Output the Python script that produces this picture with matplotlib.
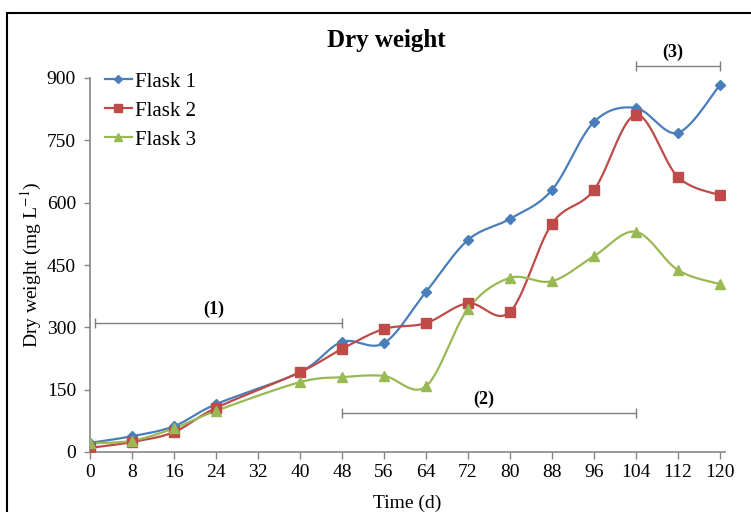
import matplotlib
matplotlib.use("Agg")
import matplotlib.pyplot as plt
from matplotlib.patches import Rectangle
import numpy as np

plt.rcParams['font.family'] = ['Liberation Serif', 'DejaVu Serif']
plt.rcParams['mathtext.fontset'] = 'stix'

days = [0, 8, 16, 24, 40, 48, 56, 64, 72, 80, 88, 96, 104, 112, 120]
flask1 = [22, 38, 62, 115, 192, 265, 262, 385, 510, 561, 630, 794, 828, 768, 883]
flask2 = [10, 24, 48, 106, 192, 248, 296, 310, 358, 337, 549, 630, 811, 662, 618]
flask3 = [21, 27, 57, 99, 168, 180, 183, 158, 344, 419, 411, 471, 530, 438, 404]

x_ticks = list(range(0, 121, 8))
y_ticks = [0, 150, 300, 450, 600, 750, 900]

# growth phases: (label, start day, end day, line level)
phases = [("(1)", 1, 48, 310), ("(2)", 48, 104, 94), ("(3)", 104, 120, 929)]

colors = ['#4A7EBB', '#BE4B48', '#98B954']
markers = ['D', 's', '^']
msizes = [5, 7, 7]


def smooth(xs, ys, sx, sy, n=30):
    # bezier smoothing like spreadsheet "smoothed line", done in screen-ish units
    p = np.column_stack([np.array(xs) * sx, np.array(ys) * sy])
    out = [p[0]]
    for i in range(len(p) - 1):
        p0 = p[i - 1] if i > 0 else p[i]
        p3 = p[i + 2] if i + 2 < len(p) else p[i + 1]
        c1 = p[i] + (p[i + 1] - p0) / 6
        c2 = p[i + 1] - (p3 - p[i]) / 6
        t = np.linspace(0, 1, n)[1:, None]
        seg = ((1 - t) ** 3 * p[i] + 3 * (1 - t) ** 2 * t * c1
               + 3 * (1 - t) * t ** 2 * c2 + t ** 3 * p[i + 1])
        out.extend(seg)
    out = np.array(out)
    return out[:, 0] / sx, out[:, 1] / sy


fig = plt.figure(figsize=(7.51, 5.12), dpi=100)
ax = fig.add_axes([90 / 751, 1 - 452 / 512, 635 / 751, 374 / 512])

sx, sy = 630 / 120, 374 / 900
for i, (vals, name) in enumerate(zip([flask1, flask2, flask3], ["Flask 1", "Flask 2", "Flask 3"])):
    xs, ys = smooth(days, vals, sx, sy)
    ax.plot(xs, ys, color=colors[i], lw=1.6, zorder=3)
    ax.plot(days, vals, linestyle='none', marker=markers[i], markersize=msizes[i],
            color=colors[i], zorder=4)
    ax.plot([], [], color=colors[i], lw=1.6, marker=markers[i], markersize=msizes[i] - 1,
            label=name)

for label, x0, x1, lev in phases:
    ax.plot([x0, x1], [lev, lev], color='#7F7F7F', lw=1, marker='|', markersize=7,
            clip_on=False, zorder=2)
    ax.text((x0 + x1) / 2 - 1, lev + 12, label, ha='center', va='bottom',
            fontsize=13, fontweight='bold')

ax.set_xlim(0, 121)
ax.set_ylim(0, 900)
ax.set_xticks(x_ticks)
ax.set_yticks(y_ticks)
ax.tick_params(labelsize=14, color='#868686', length=5, width=1)
ax.tick_params(axis='y', length=4, pad=6)
for s in ['top', 'right']:
    ax.spines[s].set_visible(False)
for s in ['left', 'bottom']:
    ax.spines[s].set_color('#868686')
    ax.spines[s].set_linewidth(1.2)

ax.set_xlabel("Time (d)", fontsize=14, labelpad=10)
ax.set_ylabel("Dry weight (mg L$^{-1}$)", fontsize=14, labelpad=2)

leg = ax.legend(loc='upper left', bbox_to_anchor=(0.0, 1.055), frameon=False,
                fontsize=15, handlelength=1.3, handletextpad=0.15,
                labelspacing=0.45, borderaxespad=0.3)

fig.text(0.515, 1 - 40 / 512, "Dry weight", ha='center', va='center',
         fontsize=18, fontweight='bold')

fig.patches.append(Rectangle((7 / 751, -0.1), 1.2, 1 - 13 / 512 + 0.1,
                             transform=fig.transFigure, fill=False,
                             edgecolor='black', lw=1.5))

fig.savefig("out.png", dpi=100)
